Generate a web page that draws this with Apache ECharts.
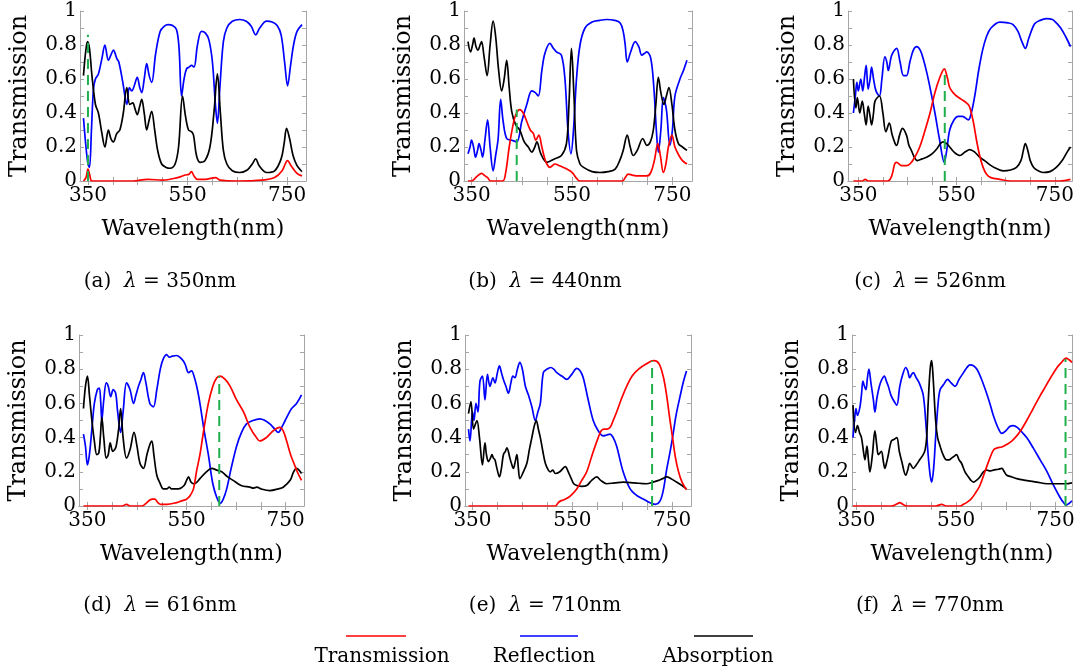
<!DOCTYPE html>
<html>
<head>
<meta charset="utf-8">
<script src="https://cdn.jsdelivr.net/npm/echarts@6/dist/echarts.min.js"></script>
<style>
  html, body { margin: 0; padding: 0; background: #fff; }
  #chart { width: 1083px; height: 671px; }
</style>
</head>
<body>
<div id="chart"></div>
<script>
// 六个波长下的透射/反射/吸收谱 [波长nm, 数值]
const transA = [[341,0],[346,0.02],[350,0.07],[354,0.03],[358,0],[440,0],[470,0.01],[500,0.005],[530,0.02],[545,0.035],[553,0.04],[558,0.055],[563,0.03],[570,0.01],[585,0.01],[607,0.02],[615,0.005],[650,0],[700,0.005],[725,0.02],[740,0.06],[751,0.12],[758,0.09],[770,0.045],[780,0.03]]
const reflA = [[341,0.37],[346,0.2],[350,0.1],[353,0.08],[357,0.3],[361,0.54],[365,0.6],[371,0.63],[378,0.72],[384,0.8],[391,0.71],[396,0.74],[401,0.77],[408,0.72],[412,0.7],[420,0.58],[428,0.45],[433,0.55],[438,0.53],[443,0.56],[449,0.61],[454,0.55],[458,0.52],[463,0.6],[468,0.69],[473,0.62],[478,0.58],[486,0.75],[495,0.88],[503,0.91],[511,0.92],[520,0.915],[528,0.89],[533,0.78],[538,0.5],[543,0.6],[548,0.66],[553,0.67],[558,0.68],[563,0.67],[570,0.8],[578,0.88],[586,0.87],[593,0.83],[600,0.7],[606,0.45],[610,0.34],[615,0.55],[622,0.82],[629,0.9],[640,0.94],[655,0.95],[668,0.94],[678,0.91],[687,0.86],[695,0.9],[709,0.94],[720,0.935],[730,0.915],[738,0.86],[745,0.7],[751,0.56],[757,0.68],[763,0.8],[770,0.88],[780,0.92]]
const absA = [[341,0.62],[345,0.75],[349,0.82],[353,0.78],[358,0.62],[365,0.45],[371,0.4],[378,0.28],[384,0.2],[391,0.3],[396,0.25],[401,0.23],[408,0.28],[414,0.3],[421,0.4],[428,0.55],[434,0.45],[440,0.46],[444,0.43],[449,0.39],[454,0.44],[458,0.48],[463,0.4],[468,0.3],[473,0.36],[478,0.41],[484,0.3],[490,0.18],[498,0.1],[507,0.08],[515,0.075],[525,0.1],[532,0.2],[540,0.5],[546,0.38],[552,0.3],[558,0.29],[562,0.27],[568,0.15],[575,0.11],[585,0.12],[595,0.2],[603,0.4],[610,0.63],[616,0.4],[622,0.18],[629,0.1],[640,0.06],[655,0.05],[670,0.065],[680,0.1],[687,0.13],[694,0.09],[709,0.05],[725,0.06],[738,0.13],[744,0.22],[749,0.31],[755,0.25],[762,0.15],[770,0.09],[780,0.055]]

const transB = [[343,0],[350,0],[355,0.01],[362,0.03],[370,0.045],[377,0.03],[382,0.02],[388,0],[412,0],[418,0.05],[425,0.2],[432,0.32],[438,0.39],[446,0.42],[453,0.4],[460,0.35],[467,0.3],[473,0.28],[478,0.24],[484,0.27],[490,0.2],[495,0.14],[500,0.1],[506,0.08],[511,0.09],[516,0.1],[525,0.09],[533,0.08],[540,0.07],[546,0.06],[552,0.045],[558,0.02],[566,0],[650,0],[656,0.02],[662,0.04],[670,0.035],[680,0.03],[699,0.03],[707,0.05],[714,0.12],[721,0.22],[726,0.15],[732,0.05],[737,0.1],[742,0.2],[749,0.27],[755,0.2],[763,0.15],[770,0.12],[779,0.1]]
const reflB = [[343,0.16],[347,0.2],[350,0.24],[354,0.2],[358,0.14],[362,0.18],[365,0.22],[369,0.18],[372,0.14],[377,0.25],[382,0.36],[387,0.2],[393,0.06],[398,0.15],[403,0.25],[408,0.48],[413,0.35],[420,0.25],[430,0.24],[440,0.23],[450,0.35],[460,0.45],[470,0.53],[477,0.52],[483,0.5],[490,0.65],[496,0.75],[506,0.81],[513,0.78],[519,0.76],[529,0.74],[536,0.6],[542,0.3],[548,0.16],[553,0.3],[559,0.6],[566,0.8],[576,0.9],[590,0.935],[605,0.945],[619,0.95],[635,0.945],[646,0.93],[652,0.88],[656,0.8],[660,0.7],[667,0.76],[676,0.82],[683,0.79],[689,0.74],[694,0.75],[699,0.76],[707,0.72],[713,0.55],[718,0.3],[722,0.17],[727,0.3],[732,0.49],[738,0.42],[745,0.21],[750,0.3],[755,0.5],[765,0.6],[772,0.65],[779,0.71]]
const absB = [[343,0.82],[348,0.76],[352,0.8],[355,0.84],[359,0.79],[363,0.77],[367,0.8],[370,0.82],[375,0.73],[381,0.62],[387,0.8],[393,0.94],[398,0.85],[404,0.65],[410,0.53],[415,0.6],[420,0.71],[425,0.55],[430,0.41],[438,0.33],[446,0.3],[455,0.23],[463,0.2],[470,0.17],[476,0.2],[480,0.23],[488,0.16],[500,0.11],[515,0.13],[529,0.15],[539,0.22],[544,0.45],[549,0.78],[554,0.5],[559,0.18],[566,0.1],[573,0.08],[590,0.055],[606,0.05],[622,0.055],[636,0.07],[645,0.12],[652,0.18],[660,0.27],[666,0.2],[672,0.15],[680,0.18],[691,0.25],[699,0.21],[706,0.23],[712,0.3],[717,0.45],[722,0.61],[727,0.52],[733,0.45],[738,0.5],[743,0.55],[749,0.45],[755,0.3],[762,0.22],[770,0.2],[779,0.18]]

const transC = [[340,0],[358,0],[364,0.01],[370,0],[410,0],[418,0.03],[424,0.1],[428,0.11],[438,0.09],[448,0.09],[455,0.1],[465,0.14],[475,0.2],[486,0.3],[496,0.4],[506,0.52],[516,0.61],[525,0.66],[531,0.61],[536,0.55],[543,0.52],[550,0.5],[560,0.48],[570,0.46],[576,0.44],[584,0.35],[590,0.25],[597,0.15],[604,0.08],[611,0.04],[620,0.02],[638,0.01],[660,0],[760,0],[782,0.01]]
const reflC = [[340,0.4],[344,0.5],[347,0.58],[350,0.53],[355,0.6],[359,0.53],[363,0.62],[366,0.68],[370,0.54],[374,0.6],[377,0.67],[381,0.6],[386,0.53],[393,0.5],[398,0.6],[404,0.73],[408,0.7],[411,0.65],[418,0.74],[428,0.78],[435,0.7],[442,0.62],[448,0.62],[455,0.7],[462,0.77],[469,0.79],[476,0.77],[482,0.72],[490,0.63],[498,0.52],[506,0.4],[515,0.25],[525,0.11],[530,0.18],[536,0.3],[545,0.36],[553,0.38],[562,0.38],[574,0.36],[580,0.4],[587,0.5],[595,0.65],[603,0.77],[611,0.85],[620,0.9],[638,0.935],[655,0.93],[665,0.92],[675,0.88],[683,0.82],[690,0.78],[697,0.84],[709,0.925],[720,0.945],[733,0.955],[745,0.95],[753,0.93],[762,0.9],[772,0.85],[782,0.79]]
const absC = [[340,0.6],[345,0.43],[348,0.49],[353,0.4],[358,0.47],[362,0.4],[366,0.33],[370,0.44],[374,0.38],[377,0.33],[381,0.4],[384,0.47],[393,0.5],[400,0.4],[406,0.29],[413,0.34],[419,0.27],[425,0.22],[428,0.21],[434,0.27],[440,0.31],[448,0.27],[453,0.21],[458,0.18],[464,0.14],[470,0.12],[480,0.13],[489,0.14],[500,0.16],[510,0.19],[517,0.22],[523,0.23],[530,0.22],[536,0.2],[545,0.17],[557,0.15],[567,0.17],[577,0.185],[587,0.17],[597,0.14],[607,0.12],[618,0.095],[630,0.075],[645,0.06],[660,0.065],[672,0.08],[681,0.12],[686,0.18],[690,0.22],[695,0.18],[700,0.12],[707,0.08],[716,0.06],[726,0.05],[740,0.055],[753,0.08],[765,0.12],[775,0.17],[782,0.2]]

const transD = [[342,0],[420,0],[429,0.01],[436,0],[460,0],[470,0.02],[476,0.035],[481,0.04],[486,0.04],[492,0.02],[498,0.01],[510,0.01],[530,0.02],[540,0.03],[550,0.04],[557,0.06],[564,0.1],[570,0.2],[577,0.3],[585,0.45],[594,0.6],[603,0.7],[611,0.75],[618,0.76],[628,0.74],[638,0.7],[651,0.62],[665,0.55],[678,0.46],[691,0.4],[698,0.38],[711,0.4],[725,0.44],[738,0.46],[745,0.44],[752,0.38],[760,0.3],[768,0.24],[775,0.19],[782,0.15]]
const reflD = [[342,0.42],[346,0.35],[350,0.24],[354,0.3],[359,0.45],[364,0.6],[370,0.68],[374,0.69],[377,0.6],[379,0.5],[383,0.62],[388,0.72],[392,0.7],[397,0.64],[402,0.68],[407,0.66],[411,0.55],[417,0.43],[422,0.55],[429,0.72],[436,0.68],[443,0.6],[448,0.65],[453,0.7],[458,0.74],[463,0.78],[468,0.72],[476,0.6],[483,0.58],[490,0.68],[497,0.8],[503,0.86],[510,0.885],[515,0.87],[520,0.875],[530,0.88],[540,0.86],[547,0.83],[554,0.78],[560,0.79],[566,0.75],[572,0.68],[577,0.6],[585,0.45],[594,0.3],[603,0.13],[611,0.05],[618,0.015],[624,0.04],[631,0.1],[640,0.22],[651,0.35],[661,0.43],[671,0.48],[684,0.5],[698,0.51],[708,0.5],[718,0.48],[728,0.45],[735,0.43],[742,0.46],[749,0.5],[756,0.54],[762,0.57],[772,0.6],[782,0.65]]
const absD = [[342,0.57],[346,0.7],[350,0.76],[354,0.65],[359,0.5],[364,0.38],[369,0.3],[373,0.31],[376,0.4],[379,0.52],[383,0.4],[388,0.28],[392,0.3],[396,0.37],[401,0.32],[405,0.33],[408,0.35],[413,0.45],[417,0.57],[422,0.4],[429,0.28],[436,0.33],[444,0.43],[450,0.35],[456,0.25],[463,0.22],[470,0.3],[476,0.36],[480,0.38],[484,0.3],[490,0.18],[497,0.13],[503,0.1],[510,0.1],[515,0.11],[520,0.1],[534,0.1],[545,0.12],[550,0.15],[554,0.17],[559,0.14],[564,0.13],[571,0.14],[577,0.16],[590,0.2],[601,0.22],[611,0.21],[621,0.2],[633,0.17],[644,0.15],[660,0.12],[678,0.11],[685,0.105],[692,0.11],[700,0.1],[718,0.09],[735,0.1],[745,0.11],[759,0.15],[766,0.2],[772,0.22],[777,0.21],[782,0.19]]

const transE = [[342,0],[516,0],[522,0.02],[527,0.03],[532,0.035],[542,0.05],[550,0.07],[559,0.1],[569,0.15],[579,0.2],[590,0.3],[602,0.4],[608,0.44],[614,0.45],[620,0.45],[626,0.46],[632,0.5],[639,0.55],[649,0.63],[659,0.7],[670,0.76],[683,0.8],[698,0.83],[713,0.85],[720,0.845],[726,0.82],[733,0.75],[739,0.65],[745,0.52],[751,0.4],[757,0.28],[763,0.2],[770,0.14],[779,0.095]]
const reflE = [[342,0.45],[345,0.38],[350,0.55],[353,0.5],[357,0.6],[361,0.55],[365,0.73],[370,0.76],[375,0.62],[380,0.77],[385,0.7],[391,0.75],[395,0.72],[400,0.78],[404,0.82],[408,0.78],[412,0.74],[417,0.7],[422,0.66],[427,0.72],[431,0.76],[435,0.75],[440,0.8],[445,0.84],[450,0.8],[456,0.7],[462,0.65],[469,0.58],[476,0.5],[481,0.55],[486,0.6],[492,0.78],[499,0.8],[507,0.81],[513,0.8],[519,0.78],[529,0.76],[539,0.74],[549,0.77],[559,0.805],[566,0.79],[572,0.75],[582,0.62],[592,0.5],[602,0.44],[612,0.41],[619,0.415],[626,0.42],[632,0.4],[639,0.35],[652,0.2],[666,0.1],[680,0.06],[693,0.04],[705,0.02],[716,0.01],[726,0.03],[733,0.1],[739,0.21],[745,0.3],[751,0.4],[758,0.53],[766,0.64],[773,0.73],[779,0.79]]
const absE = [[342,0.54],[347,0.61],[352,0.45],[356,0.48],[359,0.5],[364,0.4],[370,0.24],[375,0.37],[378,0.3],[382,0.26],[386,0.28],[389,0.3],[392,0.28],[395,0.27],[399,0.22],[404,0.17],[408,0.22],[412,0.3],[416,0.32],[419,0.34],[425,0.28],[428,0.25],[432,0.22],[435,0.25],[439,0.3],[442,0.22],[445,0.16],[452,0.2],[459,0.25],[464,0.33],[469,0.4],[474,0.47],[478,0.5],[482,0.45],[486,0.4],[491,0.32],[496,0.25],[502,0.21],[506,0.2],[511,0.21],[516,0.19],[525,0.2],[536,0.23],[542,0.2],[548,0.16],[553,0.13],[559,0.12],[569,0.115],[579,0.12],[589,0.15],[599,0.17],[607,0.15],[619,0.13],[635,0.135],[652,0.14],[675,0.135],[699,0.13],[712,0.14],[723,0.15],[731,0.16],[739,0.17],[748,0.16],[759,0.14],[770,0.12],[779,0.1]]

const transF = [[343,0],[420,0],[430,0.01],[437,0.02],[443,0.01],[451,0],[510,0],[521,0.01],[530,0],[558,0],[565,0.01],[571,0.02],[580,0.04],[590,0.08],[598,0.12],[608,0.2],[618,0.28],[626,0.33],[633,0.34],[642,0.345],[652,0.36],[662,0.38],[672,0.41],[682,0.45],[692,0.5],[705,0.57],[718,0.64],[726,0.68],[740,0.75],[753,0.81],[762,0.84],[771,0.865],[777,0.855],[783,0.84]]
const reflF = [[343,0.4],[346,0.5],[349,0.57],[352,0.53],[357,0.58],[360,0.65],[363,0.73],[366,0.7],[369,0.68],[372,0.75],[375,0.8],[379,0.72],[384,0.62],[387,0.55],[391,0.63],[396,0.7],[401,0.74],[406,0.76],[410,0.73],[414,0.7],[419,0.65],[424,0.62],[431,0.59],[437,0.7],[443,0.77],[449,0.81],[453,0.79],[457,0.75],[461,0.77],[464,0.78],[470,0.75],[476,0.72],[484,0.65],[489,0.5],[494,0.3],[498,0.18],[501,0.14],[505,0.22],[509,0.4],[514,0.6],[518,0.68],[525,0.71],[533,0.74],[540,0.72],[548,0.7],[556,0.74],[565,0.78],[572,0.81],[578,0.825],[585,0.82],[592,0.8],[600,0.75],[609,0.68],[618,0.6],[626,0.52],[634,0.46],[642,0.425],[650,0.44],[658,0.465],[665,0.47],[673,0.46],[683,0.43],[692,0.4],[705,0.34],[719,0.27],[733,0.2],[746,0.12],[759,0.05],[766,0.02],[771,0.005],[777,0.015],[783,0.03]]
const absF = [[343,0.59],[348,0.43],[352,0.47],[356,0.43],[360,0.4],[364,0.32],[367,0.27],[371,0.35],[374,0.27],[377,0.2],[382,0.3],[387,0.44],[391,0.35],[394,0.3],[400,0.32],[404,0.26],[407,0.22],[411,0.26],[414,0.3],[420,0.38],[426,0.39],[431,0.4],[436,0.32],[441,0.26],[449,0.18],[453,0.21],[457,0.25],[464,0.22],[470,0.24],[477,0.27],[484,0.3],[488,0.33],[491,0.4],[494,0.6],[498,0.8],[501,0.85],[504,0.75],[509,0.5],[513,0.4],[518,0.35],[524,0.3],[531,0.27],[536,0.27],[541,0.28],[546,0.29],[551,0.3],[556,0.27],[561,0.25],[568,0.2],[575,0.17],[580,0.15],[585,0.14],[591,0.15],[598,0.17],[605,0.2],[612,0.21],[618,0.205],[625,0.21],[635,0.215],[642,0.22],[647,0.2],[652,0.18],[662,0.17],[672,0.16],[690,0.15],[712,0.14],[733,0.13],[753,0.13],[770,0.13],[783,0.135]]

// 绿色虚线：入射波长及其高度
const markWave = [350, 440, 526, 616, 710, 770]
const markTop = [0.86, 0.42, 0.66, 0.76, 0.85, 0.86]
const panelTags = ['a', 'b', 'c', 'd', 'e', 'f']

// 刻度
const xLabelTicks = [350, 550, 750]
const xMinorTicks = [350, 400, 450, 500, 550, 600, 650, 700, 750]
const yLabelTicks = [0, 0.2, 0.4, 0.6, 0.8, 1]
const yMinorTicks = [0, 0.1, 0.2, 0.3, 0.4, 0.5, 0.6, 0.7, 0.8, 0.9, 1]

const legendNames = ['Transmission', 'Reflection', 'Absorption']
const curves = [
  [transA, reflA, absA], [transB, reflB, absB], [transC, reflC, absC],
  [transD, reflD, absD], [transE, reflE, absE], [transF, reflF, absF]
]

const colors = ['#ff0000', '#0000ff', '#000000']
const frameColor = '#a6a6a6'
const axisFont = '"DejaVu Serif", "Liberation Serif", serif'
const serifFont = '"DejaVu Serif", "Liberation Serif", serif'

// 每个子图的位置和横轴范围
const panels = [
  { left: 80, top: 11, width: 226, height: 170, xmin: 334, xmax: 788, cx: 160, cy: 282 },
  { left: 464, top: 11, width: 228, height: 170, xmin: 335, xmax: 789, cx: 545, cy: 282 },
  { left: 848, top: 11, width: 224, height: 170, xmin: 329, xmax: 785, cx: 930, cy: 282 },
  { left: 79, top: 335, width: 225, height: 171, xmin: 333, xmax: 787, cx: 160, cy: 606 },
  { left: 465, top: 335, width: 226, height: 171, xmin: 335, xmax: 788, cx: 545, cy: 606 },
  { left: 852, top: 335, width: 220, height: 171, xmin: 341, xmax: 783, cx: 930, cy: 606 }
]

let grid = []
let xAxis = []
let yAxis = []
let series = []
let graphic = []

panels.forEach((p, i) => {
  grid.push({ left: p.left, top: p.top, width: p.width, height: p.height, containLabel: false })
  let line = { show: true, lineStyle: { color: frameColor, width: 1 } }
  let tick = { show: true, inside: true, length: 4, lineStyle: { color: frameColor } }
  xAxis.push({
    type: 'value', gridIndex: i, min: p.xmin, max: p.xmax, position: 'bottom',
    name: 'Wavelength(nm)', nameLocation: 'middle', nameGap: 37,
    nameTextStyle: { fontFamily: axisFont, fontSize: 22, color: '#000' },
    axisLine: line,
    axisTick: Object.assign({ customValues: xMinorTicks }, tick),
    axisLabel: { customValues: xLabelTicks, margin: 5, fontFamily: axisFont, fontSize: 20, color: '#000' },
    splitLine: { show: false }
  })
  xAxis.push({
    type: 'value', gridIndex: i, min: p.xmin, max: p.xmax, position: 'top',
    axisLine: line,
    axisTick: Object.assign({ customValues: xMinorTicks }, tick),
    axisLabel: { show: false },
    splitLine: { show: false }
  })
  yAxis.push({
    type: 'value', gridIndex: i, min: 0, max: 1, position: 'left',
    name: 'Transmission', nameLocation: 'middle', nameGap: 48,
    nameTextStyle: { fontFamily: axisFont, fontSize: 24, color: '#000' },
    axisLine: line,
    axisTick: Object.assign({ customValues: yMinorTicks }, tick),
    axisLabel: {
      customValues: yLabelTicks, margin: 3, fontFamily: axisFont, fontSize: 20, color: '#000',
      formatter: v => String(v)
    },
    splitLine: { show: false }
  })
  yAxis.push({
    type: 'value', gridIndex: i, min: 0, max: 1, position: 'right',
    axisLine: line,
    axisTick: Object.assign({ customValues: yMinorTicks }, tick),
    axisLabel: { show: false },
    splitLine: { show: false }
  })
  let order = [1, 2, 0]
  order.forEach(k => {
    series.push({
      name: legendNames[k], type: 'line', xAxisIndex: 2 * i, yAxisIndex: 2 * i,
      data: curves[i][k], smooth: 0.35, showSymbol: false, symbol: 'none',
      lineStyle: { color: colors[k], width: 1.7 }
    })
  })
  series.push({
    type: 'line', xAxisIndex: 2 * i, yAxisIndex: 2 * i,
    data: [[markWave[i], 0], [markWave[i], markTop[i]]], showSymbol: false, symbol: 'none',
    lineStyle: { color: '#1fb04c', width: 2, type: [10, 6] }
  })
  graphic.push({
    type: 'text',
    style: {
      x: p.cx, y: p.cy, align: 'center', verticalAlign: 'middle',
      text: '(' + panelTags[i] + ')  {i|λ} = ' + markWave[i] + 'nm',
      fontFamily: serifFont, fontSize: 20, fill: '#000',
      rich: { i: { fontFamily: serifFont, fontSize: 20, fontStyle: 'italic', fill: '#000' } }
    }
  })
})

// 底部图例：线在上，文字在下
const legendLines = [[346, 406], [520, 578], [694, 753]]
const legendText = [382, 544, 718]
legendNames.forEach((n, k) => {
  graphic.push({
    type: 'line',
    shape: { x1: legendLines[k][0], y1: 636, x2: legendLines[k][1], y2: 636 },
    style: { stroke: colors[k], lineWidth: 1.5 }
  })
  graphic.push({
    type: 'text',
    style: {
      x: legendText[k], y: 657, align: 'center', verticalAlign: 'middle',
      text: n, fontFamily: serifFont, fontSize: 20, fill: '#000'
    }
  })
})

let myChart = echarts.init(document.getElementById('chart'))
let option = {
  animation: false,
  backgroundColor: '#fff',
  grid: grid,
  xAxis: xAxis,
  yAxis: yAxis,
  series: series,
  graphic: graphic
}
myChart.setOption(option, true)
</script>
</body>
</html>
